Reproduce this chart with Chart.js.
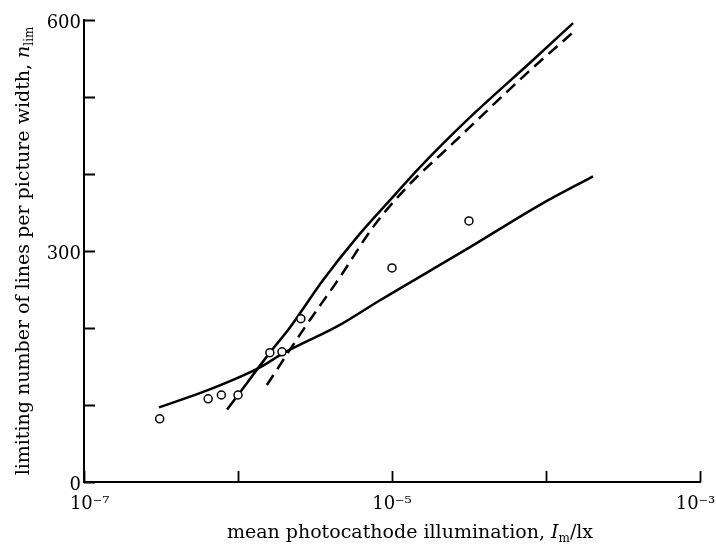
<!DOCTYPE html>
<html>
<head>
<meta charset="utf-8">
<script src="https://cdn.jsdelivr.net/npm/chart.js@4"></script>
<style>
  html, body { margin: 0; padding: 0; background: #fff; }
  #wrap { width: 716px; height: 544px; }
</style>
</head>
<body>
<div id="wrap"><canvas id="c" width="716" height="544"></canvas></div>
<script>
// ---- data ----
const xTicks = [1e-7, 1e-6, 1e-5, 1e-4, 1e-3];
const xTickLabels = ['\u200710⁻⁷', '', '10⁻⁵', '', '10⁻³\u2002'];
const yTicks = [0, 100, 200, 300, 400, 500, 600];
const yTickLabels = [0, 300, 600];

const obsX = [3.1e-7, 6.4e-7, 7.8e-7, 1.0e-6, 1.61e-6, 1.93e-6, 2.56e-6, 1.0e-5, 3.16e-5];
const obsY = [82, 108, 113, 113, 168, 169, 212, 278, 339];

const lowX = [3.07e-7, 6.3e-7, 1.39e-6, 1.96e-6, 4.59e-6, 8.36e-6, 3.21e-5, 9.14e-5, 2.02e-4];
const lowY = [97, 119, 149, 167, 204, 236, 305, 360, 397];

const steepX = [8.49e-7, 1.0e-6, 1.61e-6, 2.18e-6, 3.56e-6, 5.93e-6, 9.7e-6, 1.52e-5, 3.07e-5, 8.24e-5, 1.50e-4];
const steepY = [94, 113, 168, 201, 262, 318, 366, 409, 470, 548, 596];

const dashX = [1.54e-6, 2.72e-6, 4.59e-6, 7.53e-6, 1.25e-5, 2.49e-5, 7.53e-5, 1.48e-4];
const dashY = [126, 201, 266, 331, 383, 440, 531, 583];

const zip = (xs, ys) => xs.map((x, i) => ({ x: x, y: ys[i] }));

const SERIF = '"DejaVu Serif", "Liberation Serif", serif';

const decor = {
  id: 'decor',
  afterDraw(chart) {
    const { ctx, chartArea: ca, scales } = chart;
    const xs = scales.x, ys = scales.y;
    ctx.save();
    ctx.strokeStyle = '#000';
    ctx.lineWidth = 2;
    ctx.lineCap = 'square';
    ctx.beginPath();
    ctx.moveTo(ca.left, ca.top);
    ctx.lineTo(ca.left, ca.bottom);
    ctx.lineTo(ca.right, ca.bottom);
    ctx.stroke();
    ctx.lineCap = 'butt';
    ctx.lineWidth = 1.8;
    ctx.beginPath();
    yTicks.forEach(v => {
      const py = Math.round(ys.getPixelForValue(v)) + 0.5;
      ctx.moveTo(ca.left, py); ctx.lineTo(ca.left + 11, py);
    });
    xTicks.forEach(v => {
      const px = Math.round(xs.getPixelForValue(v)) + 0.5;
      ctx.moveTo(px, ca.bottom); ctx.lineTo(px, ca.bottom - 11);
    });
    ctx.stroke();

    ctx.fillStyle = '#000';
    ctx.textBaseline = 'alphabetic';
    function drawSegs(segs, cx, by) {
      let w = 0;
      segs.forEach(s => { ctx.font = s.f; w += ctx.measureText(s.t).width; });
      let x = cx - w / 2;
      segs.forEach(s => {
        ctx.font = s.f;
        ctx.fillText(s.t, x, by + (s.dy || 0));
        x += ctx.measureText(s.t).width;
      });
    }
    // x-axis title
    drawSegs([
      { t: 'mean photocathode illumination, ', f: '19px ' + SERIF },
      { t: 'I', f: 'italic 19px ' + SERIF },
      { t: 'm', f: '12px ' + SERIF, dy: 4 },
      { t: '/lx', f: '19px ' + SERIF }
    ], 410, 538);
    // y-axis title
    ctx.save();
    ctx.translate(29, (ca.top + ca.bottom) / 2);
    ctx.rotate(-Math.PI / 2);
    drawSegs([
      { t: 'limiting number of lines per picture width, ', f: '19px ' + SERIF },
      { t: 'n', f: 'italic 19px ' + SERIF },
      { t: 'lim', f: '12px ' + SERIF, dy: 4 }
    ], 0, 0);
    ctx.restore();
    ctx.restore();
  }
};

new Chart(document.getElementById('c'), {
  type: 'scatter',
  data: {
    datasets: [
      {
        label: 'measured',
        data: zip(obsX, obsY),
        showLine: false,
        pointStyle: 'circle',
        pointRadius: 4,
        pointBorderWidth: 1.5,
        pointBorderColor: '#000',
        pointBackgroundColor: '#fff',
        order: 0
      },
      {
        label: 'lower',
        data: zip(lowX, lowY),
        showLine: true,
        borderColor: '#000',
        borderWidth: 2.5,
        pointRadius: 0,
        cubicInterpolationMode: 'monotone',
        order: 1
      },
      {
        label: 'steep',
        data: zip(steepX, steepY),
        showLine: true,
        borderColor: '#000',
        borderWidth: 2.5,
        pointRadius: 0,
        cubicInterpolationMode: 'monotone',
        order: 2
      },
      {
        label: 'dashed',
        data: zip(dashX, dashY),
        showLine: true,
        borderColor: '#000',
        borderWidth: 2.5,
        borderDash: [12, 7],
        pointRadius: 0,
        cubicInterpolationMode: 'monotone',
        order: 3
      }
    ]
  },
  options: {
    responsive: false,
    animation: false,
    devicePixelRatio: 1,
    layout: { padding: { left: 0, right: 16, top: 20, bottom: 0 } },
    plugins: { legend: { display: false }, tooltip: { enabled: false } },
    scales: {
      x: {
        type: 'logarithmic',
        min: 1e-7,
        max: 1e-3,
        grid: { display: false, drawTicks: false },
        border: { display: false },
        afterBuildTicks: s => { s.ticks = xTicks.map(v => ({ value: v })); },
        afterFit: s => { s.height = 62; s.paddingLeft = 0; s.paddingRight = 0; },
        ticks: {
          autoSkip: false,
          maxRotation: 0,
          padding: 12,
          color: '#000',
          font: { family: SERIF, size: 18 },
          callback: (v, i) => xTickLabels[i] || ''
        }
      },
      y: {
        type: 'linear',
        min: 0,
        max: 600,
        grid: { display: false, drawTicks: false },
        border: { display: false },
        afterBuildTicks: s => { s.ticks = yTicks.map(v => ({ value: v })); },
        afterFit: s => { s.width = 84; },
        ticks: {
          autoSkip: false,
          padding: 3,
          labelOffset: 3,
          color: '#000',
          font: { family: SERIF, size: 18 },
          callback: v => yTickLabels.includes(v) ? String(v) : ''
        }
      }
    }
  },
  plugins: [decor]
});
</script>
</body>
</html>
